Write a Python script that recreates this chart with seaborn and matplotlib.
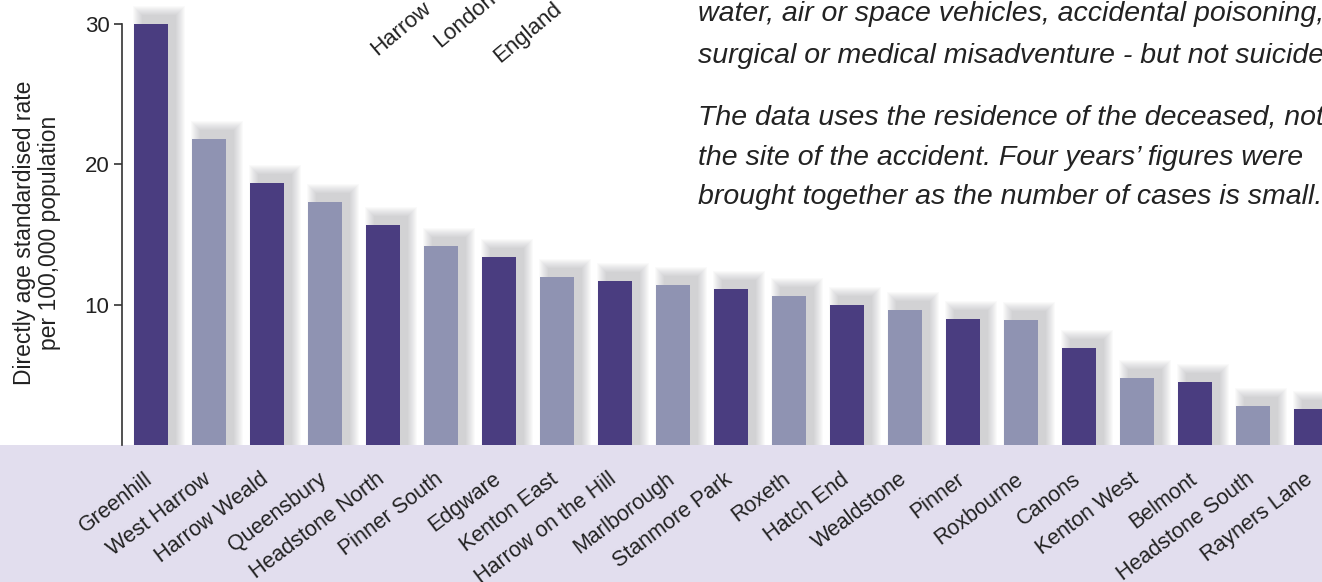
import numpy as np
import pandas as pd
import matplotlib
matplotlib.use("Agg")
import matplotlib.pyplot as plt
import matplotlib.transforms as mtransforms
import seaborn as sns
from matplotlib.patches import Rectangle

# wards, ordered by rate
wards = ['Greenhill', 'West Harrow', 'Harrow Weald', 'Queensbury', 'Headstone North',
         'Pinner South', 'Edgware', 'Kenton East', 'Harrow on the Hill', 'Marlborough',
         'Stanmore Park', 'Roxeth', 'Hatch End', 'Wealdstone', 'Pinner', 'Roxbourne',
         'Canons', 'Kenton West', 'Belmont', 'Headstone South', 'Rayners Lane']
rates = [30.0, 21.8, 18.7, 17.3, 15.7, 14.2, 13.4, 12.0, 11.7, 11.4,
         11.1, 10.6, 10.0, 9.65, 9.0, 8.9, 6.9, 4.75, 4.5, 2.75, 2.55]
yticks = [10, 20, 30]
legend_names = ['Harrow', 'London', 'England']
note_lines = ['water, air or space vehicles, accidental poisoning,',
              'surgical or medical misadventure - but not suicide.',
              'The data uses the residence of the deceased, not',
              "the site of the accident. Four years\u2019 figures were",
              'brought together as the number of cases is small.']

dark = '#4a3d80'
light = '#8f93b2'
band = '#e2deee'

df = pd.DataFrame({'ward': wards, 'rate': rates})
colors = [dark if i % 2 == 0 else light for i in range(len(wards))]

sns.set_theme(style='white')
plt.rcParams['font.family'] = ['Liberation Sans', 'DejaVu Sans']

W, H = 1322, 582
fig = plt.figure(figsize=(W / 100, H / 100), dpi=100)
fig.patches.append(Rectangle((0, 0), 1, (H - 445) / H, transform=fig.transFigure,
                             facecolor=band, edgecolor='none', zorder=-5))

# axes runs past the right edge, like the cropped original
ax = fig.add_axes([122 / W, (H - 445) / H, 1218 / W, 421 / H])
ax.patch.set_alpha(0)

n = len(wards)
x = np.arange(n)
bw = 0.6
px_x = 1 / 58.0
px_y = 30 / 421.0

# soft drop shadow, stacked translucent layers
for s in range(0, 10):
    ax.bar(x + 8 * px_x, np.array(rates) + (9 + s) * px_y, width=bw + 2 * s * px_x,
           color='#80808a', alpha=0.04, linewidth=0, zorder=1, clip_on=False)

sns.barplot(data=df, x='ward', y='rate', hue='ward', palette=colors, legend=False,
            width=bw, saturation=1, linewidth=0, ax=ax, zorder=2)

ax.set_xlim(-0.5, n - 0.5)
ax.set_ylim(0, 30)
ax.set_yticks(yticks)
ax.tick_params(axis='y', length=6, width=1.2, color='#333333', labelsize=16,
               labelcolor='#222222', left=True, pad=3)
ax.tick_params(axis='x', length=0, pad=17)
ax.set_xticks(x)
ax.set_xticklabels(wards, rotation=37, ha='right', rotation_mode='anchor',
                   fontsize=15.5, color='#222222')
shift = mtransforms.ScaledTranslation(-7 / 100, 0, fig.dpi_scale_trans)
for lab in ax.get_xticklabels():
    lab.set_transform(lab.get_transform() + shift)
for sp in ['top', 'right', 'bottom']:
    ax.spines[sp].set_visible(False)
ax.spines['left'].set_color('#333333')
ax.spines['left'].set_linewidth(1.2)
ax.set_xlabel('')
ax.set_ylabel('Directly age standardised rate\nper 100,000 population', fontsize=16.5,
              color='#222222', linespacing=1.12)
ax.yaxis.set_label_coords(-0.05, 0.504)

# rotated legend labels (their swatches are outside the crop)
for name, (px, py) in zip(legend_names, [(401, 29), (465, 20), (528, 33)]):
    fig.text(px / W, 1 - py / H, name, rotation=40, ha='center', va='center',
             fontsize=16, color='#222222')

for line, py in zip(note_lines, [14, 56, 117, 158, 197]):
    fig.text(698 / W, 1 - py / H, line, ha='left', va='center', fontsize=20.5,
             style='italic', color='#222222')

fig.savefig('out.png', dpi=100)
